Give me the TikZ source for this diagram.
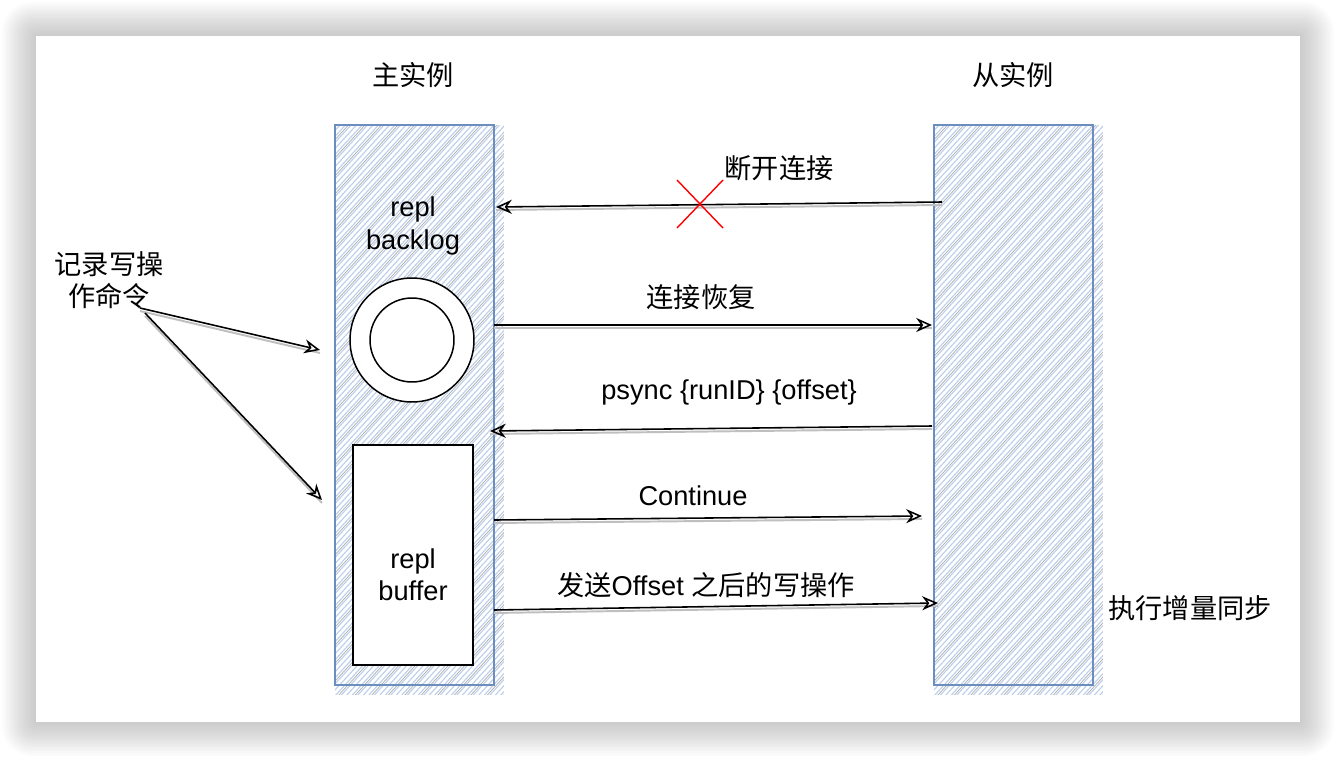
\documentclass[tikz,border=0pt]{standalone}
\usepackage{fontspec}
\setmainfont{Liberation Sans}
\newfontfamily\cjk{Noto Sans CJK SC}
\usetikzlibrary{arrows.meta,calc,positioning}
\pgfdeclarelayer{background}
\pgfsetlayers{background,main}
\definecolor{colblue}{HTML}{6C8EBF}
\definecolor{hatchblue}{HTML}{BFD0EA}

\begin{document}
\begin{tikzpicture}[x=0.02cm,y=-0.02cm,>={Stealth[open,length=9pt,width=8pt]},semithick]
	\tikzstyle{every node}=[font=\fontsize{15.5}{18.5}\selectfont,align=center,inner sep=1pt]
	\tikzstyle{column}=[draw=colblue,line width=1.1pt,minimum width=3.18cm,minimum height=11.2cm,inner sep=0pt]
	\tikzstyle{msg}=[->,line width=0.9pt,preaction={draw=black!25,line width=1.1pt,-,transform canvas={yshift=-1.7pt}}]

	\useasboundingbox (0,0) rectangle (1336,758);

	\node (mtitle) at (413,75) {\cjk 主实例};
	\node (stitle) at (1013,75) {\cjk 从实例};

	\node[column] (master) at (414.5,405) {};
	\node[column] (slave) at (1013.5,405) {};

	\begin{pgfonlayer}{background}
	% card with soft shadow
	\foreach \k in {1,...,14}
		\fill[black,opacity=0.016,rounded corners=\k*1.2pt] (36-\k*2.4,36-\k*2.4) rectangle (1300+\k*2.4,722+\k*2.4);
	\fill[white] (36,36) rectangle (1300,722);
	% hatching
	\foreach \c in {master,slave}{
		\begin{scope}
			\clip ($(\c.south west)+(1,9)$) rectangle ($(\c.north east)+(9,1)$);
			\foreach \i in {0,...,200}
				\draw[hatchblue,line width=0.65pt] ($(\c.south west)+(\i*5.5-560,10)$) -- ++(640,-700);
			\foreach \i in {0,...,70}
				\draw[black!32,line width=0.4pt] ($(\c.south west)+(\i*16.5-557,10)$) -- ++(640,-700);
		\end{scope}
	}
	\end{pgfonlayer}

	\node (backlog) at (413,226) {repl\\backlog};
	\node[circle,draw,line width=0.85pt,fill=white,minimum size=2.48cm] (ring) at (412,340) {};
	\node[circle,draw,line width=0.85pt,minimum size=1.68cm] (hole) at (ring) {};
	\node[draw,line width=0.85pt,fill=white,minimum width=2.4cm,minimum height=4.4cm] (buffer) at (413,555) {};
	\node (buflbl) at (413,575) {repl\\buffer};

	\node (note) at (109,280) {\cjk 记录写操\\\cjk 作命令};
	\node (sync) at (1190,608) {\cjk 执行增量同步};

	\coordinate (n1) at (140,308);
	\coordinate (n2) at (145,313);
	\coordinate (m1) at (320,350);
	\coordinate (m2) at (322,500);
	\draw[msg] (n1) -- (m1);
	\draw[msg] (n2) -- (m2);

	% messages between the instances
	\coordinate (s1) at (942,202);  \coordinate (t1) at (496,207);
	\coordinate (s2) at (494,325);  \coordinate (t2) at (932,325);
	\coordinate (s3) at (932,426);  \coordinate (t3) at (490,431);
	\coordinate (s4) at (494,520);  \coordinate (t4) at (922,516);
	\coordinate (s5) at (494,610);  \coordinate (t5) at (938,603);

	\draw[msg] (s1) -- (t1);
	\draw[msg] (s2) -- (t2);
	\draw[msg] (s3) -- (t3);
	\draw[msg] (s4) -- (t4);
	\draw[msg] (s5) -- (t5);

	\coordinate (cut) at (700,204);
	\draw[red,line width=0.8pt] ($(cut)+(-23,-24)$) -- ($(cut)+(23,24)$);
	\draw[red,line width=0.8pt] ($(cut)+(23,-24)$) -- ($(cut)+(-23,24)$);

	\node (l1) at (779,168) {\cjk 断开连接};
	\node (l2) at (701,297) {\cjk 连接恢复};
	\node (l3) at (729,392) {psync \{runID\} \{offset\}};
	\node (l4) at (693,496) {Continue};
	\node (l5) at (706,585) {{\cjk 发送}Offset {\cjk 之后的写操作}};
\end{tikzpicture}
\end{document}
